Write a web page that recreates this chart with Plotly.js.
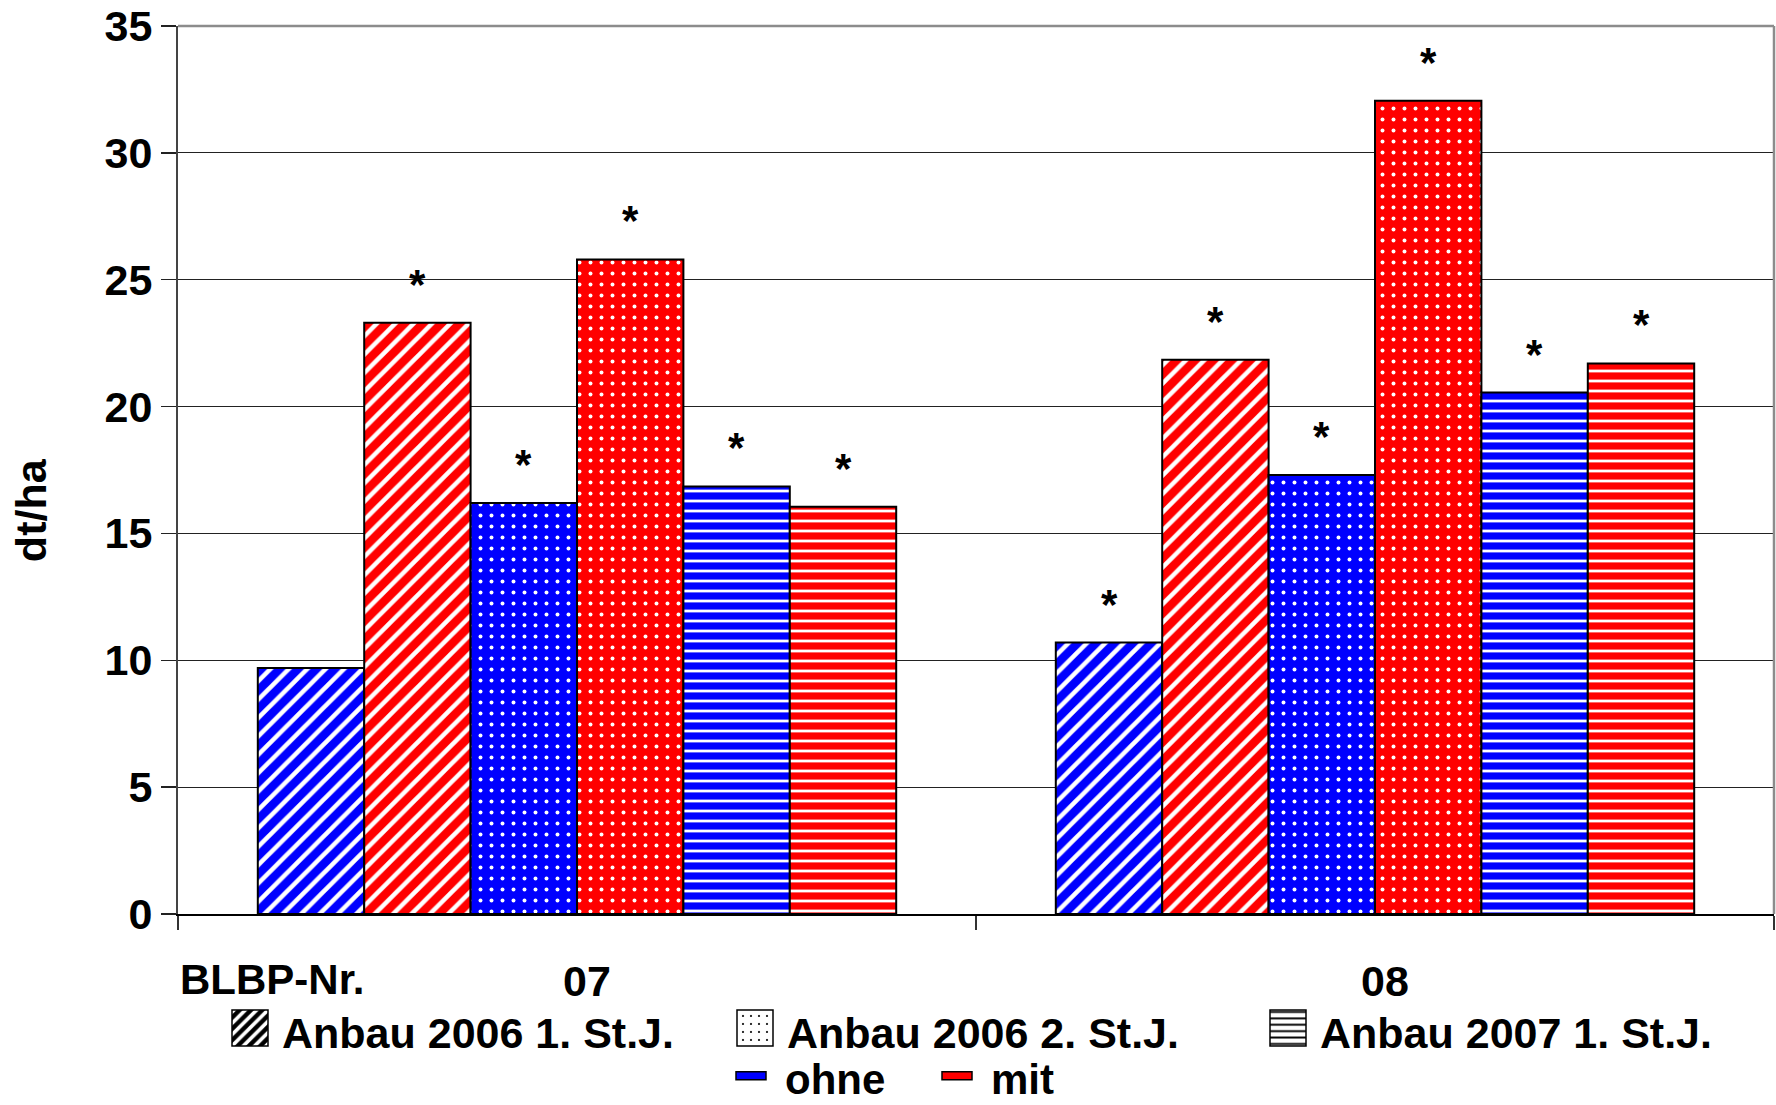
<!DOCTYPE html>
<html>
<head>
<meta charset="utf-8">
<script src="https://cdn.plot.ly/plotly-3.0.1.min.js"></script>
<style>html,body{margin:0;padding:0;background:#fff;}#chart{width:1776px;height:1105px;}</style>
</head>
<body>
<div id="chart"></div>
<script>
// ---- data ----
const categories = ['07', '08'];
const ohne_2006_1 = [9.7, 10.7];
const mit_2006_1 = [23.3, 21.85];
const ohne_2006_2 = [16.2, 17.3];
const mit_2006_2 = [25.8, 32.05];
const ohne_2007_1 = [16.85, 20.55];
const mit_2007_1 = [16.05, 21.7];
// significance markers (*) per series and category
const sig_ohne_2006_1 = [false, true];
const sig_mit_2006_1 = [true, true];
const sig_ohne_2006_2 = [true, true];
const sig_mit_2006_2 = [true, true];
const sig_ohne_2007_1 = [true, true];
const sig_mit_2007_1 = [true, true];
const legendPatternLabels = ['Anbau 2006 1. St.J.', 'Anbau 2006 2. St.J.', 'Anbau 2007 1. St.J.'];
const legendColorLabels = ['ohne', 'mit'];
const yTitle = 'dt/ha';
const xLabel = 'BLBP-Nr.';

// ---- style ----
const FONT = 'Liberation Sans, Arial, sans-serif';
const BLUE = '#0000ff', RED = '#ff0000';
const BARGAP = 0.2;

const series = [
  {y: ohne_2006_1, sig: sig_ohne_2006_1, color: BLUE, shape: '/', size: 13, sol: 0.35},
  {y: mit_2006_1, sig: sig_mit_2006_1, color: RED, shape: '/', size: 13, sol: 0.35},
  {y: ohne_2006_2, sig: sig_ohne_2006_2, color: BLUE, shape: '.', size: 11, sol: 0.1},
  {y: mit_2006_2, sig: sig_mit_2006_2, color: RED, shape: '.', size: 11, sol: 0.1},
  {y: ohne_2007_1, sig: sig_ohne_2007_1, color: BLUE, shape: '-', size: 10, sol: 0.28},
  {y: mit_2007_1, sig: sig_mit_2007_1, color: RED, shape: '-', size: 10, sol: 0.28}
];

const traces = series.map(s => ({
  type: 'bar', x: categories, y: s.y, showlegend: false, hoverinfo: 'y',
  marker: {
    color: s.color,
    line: {color: '#000', width: 2},
    pattern: {shape: s.shape, bgcolor: s.color, fgcolor: '#ffffff', size: s.size, solidity: s.sol, fillmode: 'replace'}
  }
}));

// legend-only dummy traces on hidden axes
const legPat = [
  {shape: '/', bg: '#000', fg: '#fff', size: 12, sol: 0.45},
  {shape: '.', bg: '#fff', fg: '#000', size: 12, sol: 0.06},
  {shape: '-', bg: '#fff', fg: '#000', size: 8, sol: 0.3}
];
const legWidths = [436, 464, 400];
legendPatternLabels.forEach((name, i) => {
  traces.push({
    type: 'bar', x: [categories[0]], y: [null], name: name, xaxis: 'x2', yaxis: 'y2',
    legend: 'legend', legendwidth: legWidths[i], hoverinfo: 'skip',
    marker: {color: legPat[i].bg, line: {color: '#000', width: 1.5},
      pattern: {shape: legPat[i].shape, bgcolor: legPat[i].bg, fgcolor: legPat[i].fg, size: legPat[i].size, solidity: legPat[i].sol, fillmode: 'replace'}}
  });
});
[BLUE, RED].forEach((c, i) => {
  traces.push({
    type: 'bar', x: [categories[0]], y: [null], name: legendColorLabels[i], xaxis: 'x2', yaxis: 'y2',
    legend: 'legend2', legendwidth: i === 0 ? 137 : 80, hoverinfo: 'skip',
    marker: {color: c, line: {color: '#000', width: 1.5}}
  });
});

// asterisk annotations positioned from data
const nS = series.length;
const annotations = [];
series.forEach((s, si) => {
  s.y.forEach((v, ci) => {
    if (!s.sig[ci]) return;
    annotations.push({
      xref: 'x', yref: 'y', x: ci + (si - (nS - 1) / 2) * (1 - BARGAP) / nS, y: v,
      text: '*', showarrow: false, yanchor: 'bottom', yshift: 13,
      font: {family: FONT, size: 42, color: '#000', weight: 'bold'}
    });
  });
});
annotations.push({
  xref: 'paper', yref: 'paper', x: -0.092, y: 0.455, text: yTitle, textangle: -90,
  showarrow: false, xanchor: 'center', yanchor: 'middle',
  font: {family: FONT, size: 43, color: '#000', weight: 'bold'}
});
annotations.push({
  xref: 'paper', yref: 'paper', x: 0, y: -0.0735, text: xLabel,
  showarrow: false, xanchor: 'left', yanchor: 'middle',
  font: {family: FONT, size: 42, color: '#000', weight: 'bold'}
});

const layout = {
  width: 1776, height: 1105,
  margin: {l: 178, r: 2, t: 26, b: 191, autoexpand: false},
  paper_bgcolor: '#fff', plot_bgcolor: '#fff',
  font: {family: FONT, color: '#000'},
  barmode: 'group', bargap: BARGAP, bargroupgap: 0,
  xaxis: {
    type: 'category', showgrid: false, showline: true, linecolor: '#000', linewidth: 2,
    ticks: 'outside', tickson: 'boundaries', ticklen: 14, tickcolor: '#333', tickwidth: 1.5,
    tickfont: {family: FONT, size: 43, color: '#000', weight: 'bold'},
    ticklabelstandoff: 28, ticklabelshift: 10, zeroline: false, fixedrange: true
  },
  yaxis: {
    range: [0, 35], dtick: 5, tick0: 0, showgrid: true, gridcolor: '#222', gridwidth: 1,
    showline: true, linecolor: '#444', linewidth: 2,
    ticks: 'outside', ticklen: 15, tickcolor: '#222', tickwidth: 1.5,
    tickfont: {family: FONT, size: 43, color: '#000', weight: 'bold'},
    ticklabelstandoff: 0, zeroline: false, fixedrange: true
  },
  xaxis2: {type: 'category', overlaying: 'x', visible: false, fixedrange: true},
  yaxis2: {overlaying: 'y', visible: false, range: [0, 35], fixedrange: true},
  legend: {
    orientation: 'h', x: (218 - 178) / 1596, xanchor: 'left', y: -(1031 - 914) / 888, yanchor: 'middle',
    itemwidth: 54, bgcolor: 'rgba(0,0,0,0)', borderwidth: 0,
    font: {family: FONT, size: 43, color: '#000', weight: 'bold'}, traceorder: 'normal'
  },
  legend2: {
    orientation: 'h', x: (721 - 178) / 1596, xanchor: 'left', y: -(1078 - 914) / 888, yanchor: 'middle',
    itemwidth: 54, bgcolor: 'rgba(0,0,0,0)', borderwidth: 0,
    font: {family: FONT, size: 42, color: '#000', weight: 'bold'}, traceorder: 'normal'
  },
  shapes: [
    {type: 'line', xref: 'paper', yref: 'paper', x0: 0, x1: 1, y0: 1, y1: 1, line: {color: '#8c8c8c', width: 2.5}, layer: 'above'},
    {type: 'line', xref: 'paper', yref: 'paper', x0: 1, x1: 1, y0: 0, y1: 1, line: {color: '#8c8c8c', width: 2.5}, layer: 'above'}
  ],
  annotations: annotations
};

function fixSwatches(gd) {
  // resize legend swatches to the reference's symbol sizes, placed relative to their labels
  gd.querySelectorAll('g.traces').forEach(t => {
    const textEl = t.querySelector('text');
    if (!textEl) return;
    let name = '';
    try { name = t.__data__[0].trace.name; } catch (e) { name = textEl.textContent.trim(); }
    const wide = legendColorLabels.indexOf(name) >= 0;
    const hw = wide ? 15 : 18, hh = wide ? 4 : 18, gap = wide ? 34 : 32, dy = wide ? -2 : -3;
    t.querySelectorAll('.legendpoints path').forEach(p => {
      p.removeAttribute('transform');
      p.setAttribute('d', 'M' + hw + ',' + hh + 'H' + (-hw) + 'V' + (-hh) + 'H' + hw + 'Z');
      const rp = p.getBoundingClientRect();
      const rt = textEl.getBoundingClientRect();
      const dx = (rt.left - gap) - (rp.left + rp.right) / 2;
      p.setAttribute('transform', 'translate(' + dx.toFixed(1) + ',' + dy + ')');
    });
  });
}

Plotly.newPlot('chart', traces, layout, {displayModeBar: false, staticPlot: true}).then(gd => {
  fixSwatches(gd);
});
</script>
</body>
</html>
